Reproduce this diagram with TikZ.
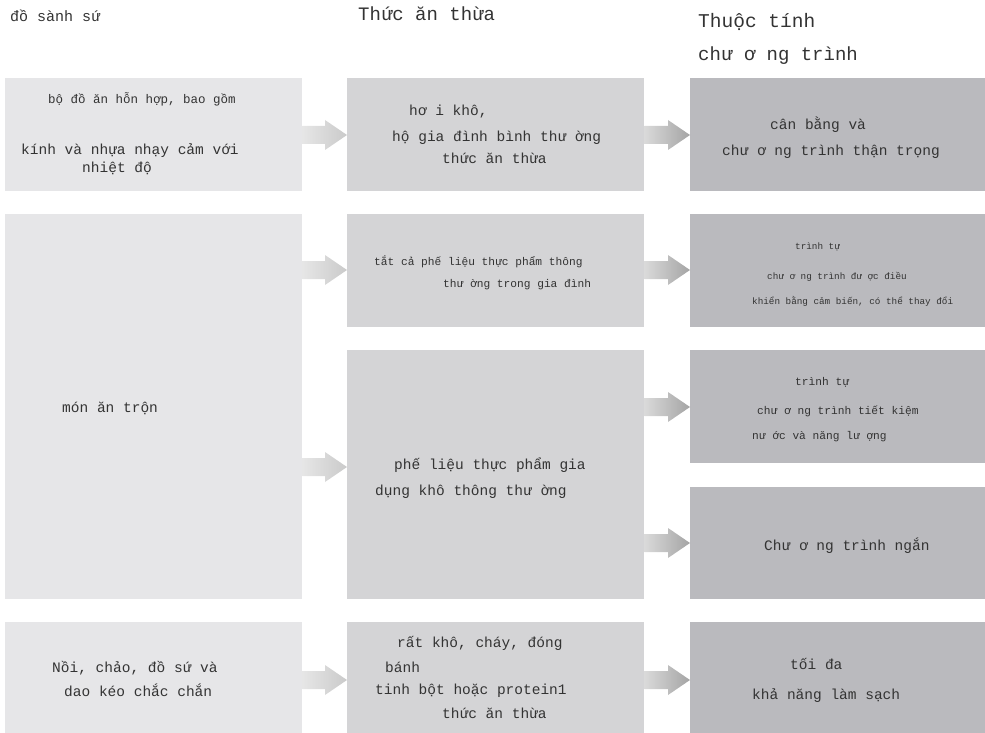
\documentclass[tikz,border=0pt]{standalone}
\usepackage{fontspec}
\newfontfamily\monofont{Liberation Mono}
\usetikzlibrary{calc}

\definecolor{dishfill}{HTML}{E6E6E8}
\definecolor{foodfill}{HTML}{D4D4D6}
\definecolor{progfill}{HTML}{BABABE}
\definecolor{inkgray}{HTML}{333333}
\definecolor{arrowpale}{HTML}{E6E6E6}
\definecolor{arrowmid}{HTML}{CACACA}
\definecolor{arrowdark}{HTML}{A4A4A4}

% fat shaded arrow: from node, to node, y, shading
\newcommand{\fatarrow}[4]{%
  \coordinate (s) at (#1.east |- 0,#3);
  \coordinate (t) at (#2.west |- 0,#3);
  \shade[#4] ($(s)+(0,-9)$) -- ($(t)+(-22,-9)$) -- ($(t)+(-22,-15)$) -- (t)
    -- ($(t)+(-22,15)$) -- ($(t)+(-22,9)$) -- ($(s)+(0,9)$) -- cycle;}

\begin{document}
\begin{tikzpicture}[x=1pt,y=-1pt,
    box/.style={anchor=north west,inner sep=0pt,draw=none},
    txt/.style={anchor=west,inner sep=0pt,text=inkgray,text height=0.75em,text depth=0.25em},
    tiny/.style={font=\monofont\fontsize{9.3}{11}\selectfont},
    small/.style={font=\monofont\fontsize{11.2}{13}\selectfont},
    mid/.style={font=\monofont\fontsize{12.5}{15}\selectfont},
    big/.style={font=\monofont\fontsize{14.5}{17}\selectfont},
    firstarrow/.style={left color=arrowpale,right color=arrowmid},
    secondarrow/.style={left color=arrowmid!70!white,right color=arrowdark}]
  \useasboundingbox (0,0) rectangle (985,733);

  % headers
  \node[txt,font=\monofont\fontsize{15}{17}\selectfont] (hdish) at (10,19) {đồ sành sứ};
  \node[txt,font=\monofont\fontsize{19}{22}\selectfont] (hfood) at (358,18) {Thức ăn thừa};
  \node[txt,font=\monofont\fontsize{19.5}{22}\selectfont] (hprog) at (698,25) {Thuộc tính};
  \node[txt,font=\monofont\fontsize{19}{22}\selectfont] (hprogb) at (698,58) {chư ơ ng trình};

  % column 1
  \node[box,fill=dishfill,minimum width=297pt,minimum height=113pt] (dish1) at (5,78) {};
  \node[box,fill=dishfill,minimum width=297pt,minimum height=385pt] (dish2) at (5,214) {};
  \node[box,fill=dishfill,minimum width=297pt,minimum height=111pt] (dish3) at (5,622) {};

  % column 2
  \node[box,fill=foodfill,minimum width=297pt,minimum height=113pt] (food1) at (347,78) {};
  \node[box,fill=foodfill,minimum width=297pt,minimum height=113pt] (food2) at (347,214) {};
  \node[box,fill=foodfill,minimum width=297pt,minimum height=249pt] (food3) at (347,350) {};
  \node[box,fill=foodfill,minimum width=297pt,minimum height=111pt] (food4) at (347,622) {};

  % column 3
  \node[box,fill=progfill,minimum width=295pt,minimum height=113pt] (prog1) at (690,78) {};
  \node[box,fill=progfill,minimum width=295pt,minimum height=113pt] (prog2) at (690,214) {};
  \node[box,fill=progfill,minimum width=295pt,minimum height=113pt] (prog3) at (690,350) {};
  \node[box,fill=progfill,minimum width=295pt,minimum height=112pt] (prog4) at (690,487) {};
  \node[box,fill=progfill,minimum width=295pt,minimum height=111pt] (prog5) at (690,622) {};

  % arrows
  \fatarrow{dish1}{food1}{135}{firstarrow}
  \fatarrow{dish2}{food2}{270}{firstarrow}
  \fatarrow{dish2}{food3}{467}{firstarrow}
  \fatarrow{dish3}{food4}{680}{firstarrow}
  \fatarrow{food1}{prog1}{135}{secondarrow}
  \fatarrow{food2}{prog2}{270}{secondarrow}
  \fatarrow{food3}{prog3}{407}{secondarrow}
  \fatarrow{food3}{prog4}{543}{secondarrow}
  \fatarrow{food4}{prog5}{680}{secondarrow}

  % texts, column 1
  \node[txt,mid] (dish1a) at (48,101) {bộ đồ ăn hỗn hợp, bao gồm};
  \node[txt,big] (dish1b) at (21,152) {kính và nhựa nhạy cảm với};
  \node[txt,big] (dish1c) at (82,170) {nhiệt độ};
  \node[txt,big] (dish2a) at (62,410) {món ăn trộn};
  \node[txt,big] (dish3a) at (52,670) {Nồi, chảo, đồ sứ và};
  \node[txt,big] (dish3b) at (64,694) {dao kéo chắc chắn};

  % texts, column 2
  \node[txt,big] (food1a) at (409,113) {hơ i khô,};
  \node[txt,big] (food1b) at (392,139) {hộ gia đình bình thư ờng};
  \node[txt,big] (food1c) at (442,161) {thức ăn thừa};
  \node[txt,small] (food2a) at (374,263) {tắt cả phế liệu thực phẩm thông};
  \node[txt,small] (food2b) at (443,285) {thư ờng trong gia đình};
  \node[txt,big] (food3a) at (394,467) {phế liệu thực phẩm gia};
  \node[txt,big] (food3b) at (375,493) {dụng khô thông thư ờng};
  \node[txt,big] (food4a) at (397,645) {rất khô, cháy, đóng};
  \node[txt,big] (food4b) at (385,670) {bánh};
  \node[txt,big] (food4c) at (375,692) {tinh bột hoặc protein1};
  \node[txt,big] (food4d) at (442,716) {thức ăn thừa};

  % texts, column 3
  \node[txt,big] (prog1a) at (770,127) {cân bằng và};
  \node[txt,big] (prog1b) at (722,153) {chư ơ ng trình thận trọng};
  \node[txt,tiny] (prog2a) at (795,247) {trình tự};
  \node[txt,tiny] (prog2b) at (767,277) {chư ơ ng trình đư ợc điều};
  \node[txt,tiny] (prog2c) at (752,302) {khiển bằng cảm biến, có thể thay đổi};
  \node[txt,small] (prog3a) at (795,383) {trình tự};
  \node[txt,small] (prog3b) at (757,412) {chư ơ ng trình tiết kiệm};
  \node[txt,small] (prog3c) at (752,437) {nư ớc và năng lư ợng};
  \node[txt,big] (prog4a) at (764,548) {Chư ơ ng trình ngắn};
  \node[txt,big] (prog5a) at (790,667) {tối đa};
  \node[txt,big] (prog5b) at (752,697) {khả năng làm sạch};
\end{tikzpicture}
\end{document}
